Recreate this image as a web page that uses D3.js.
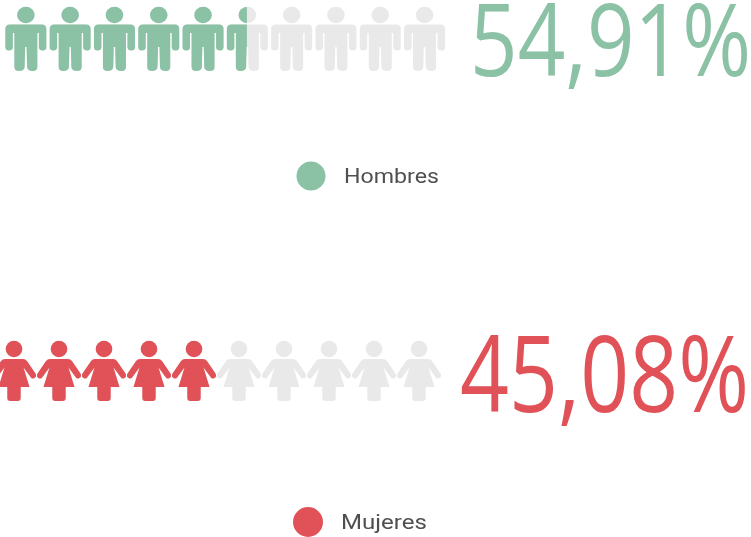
<!DOCTYPE html>
<html>
<head>
<meta charset="utf-8">
<script src="https://cdn.jsdelivr.net/npm/d3@7"></script>
<style>
html, body { margin: 0; padding: 0; background: #fff; overflow: hidden; }
svg { display: block; filter: blur(0.5px); }
</style>
</head>
<body>
<script>
const width = 751;
const height = 537;

const groups = ['Hombres', 'Mujeres'];
const percentLabels = ['54,91%', '45,08%'];
const iconTotals = [10, 10];
const iconsFilled = [5.49, 5];
const colors = ['#8bc2a6', '#e05258'];
const emptyColor = '#e9e9e9';

// iconos dibujados alrededor de (0,0), centro de la cabeza
const manBody = 'M-16,9.5 L16,9.5 Q20.5,9.5 20.5,14 L20.5,32 Q20.5,35.5 17,35.5 Q13,35.5 13,32 L13,18 L11.5,18 L11.5,52 Q11.5,56 7,56 Q1.5,56 1.2,52 L0.7,32 L-0.7,32 L-1.2,52 Q-1.5,56 -7,56 Q-11.5,56 -11.5,52 L-11.5,18 L-13,18 L-13,32 Q-13,35.5 -17,35.5 Q-20.5,35.5 -20.5,32 L-20.5,14 Q-20.5,9.5 -16,9.5 Z';
const womanBody = 'M-9,10 L9,10 Q11.5,10 13,12 L21.5,24.5 Q23,27.5 20.5,29 Q18,30.5 16.5,28 L9.5,18.5 L15.5,38 L6.7,38 L6.7,49 Q6.7,52 3.7,52 L-3.7,52 Q-6.7,52 -6.7,49 L-6.7,38 L-15.5,38 L-9.5,18.5 L-16.5,28 Q-18,30.5 -20.5,29 Q-23,27.5 -21.5,24.5 L-13,12 Q-11.5,10 -9,10 Z';

const layouts = [
    { range: [3.7, 446.7], headY: 15, rx: 8.8, ry: 8.3, body: manBody, labelX: 751, labelY: 75.5, labelW: 281, fontSize: 100, legendX: 311, legendY: 176, r: 14.5, textX: 344, textW: 95 },
    { range: [-8.5, 441.5], headY: 349, rx: 8.3, ry: 8.3, body: womanBody, labelX: 749, labelY: 412, labelW: 289, fontSize: 106, legendX: 308, legendY: 522, r: 15, textX: 341, textW: 86 }
];

const svg = d3.select('body').append('svg')
    .attr('width', width)
    .attr('height', height);

groups.forEach((name, g) => {
    const lay = layouts[g];
    const x = d3.scaleLinear().domain([0, iconTotals[g]]).range(lay.range);
    const icons = d3.range(iconTotals[g]);
    const group = svg.append('g');

    // la parte coloreada se recorta segun el valor
    group.append('clipPath')
        .attr('id', 'clip' + g)
        .append('rect')
        .attr('x', x(0))
        .attr('y', lay.headY - 20)
        .attr('width', x(iconsFilled[g]) - x(0))
        .attr('height', 100);

    const drawIcons = (parent, fill) => {
        const icon = parent.selectAll('g')
            .data(icons)
            .enter()
            .append('g')
            .attr('transform', d => `translate(${(x(d) + x(d + 1)) / 2},${lay.headY})`)
            .attr('fill', fill);
        icon.append('ellipse').attr('rx', lay.rx).attr('ry', lay.ry);
        icon.append('path').attr('d', lay.body);
    };

    drawIcons(group.append('g'), emptyColor);
    drawIcons(group.append('g').attr('clip-path', `url(#clip${g})`), colors[g]);

    // porcentaje grande, estrechado para imitar la fuente condensada
    const big = group.append('text')
        .attr('text-anchor', 'end')
        .attr('font-family', '"Open Sans", sans-serif')
        .attr('font-size', lay.fontSize)
        .attr('fill', colors[g])
        .text(percentLabels[g]);
    const sx = lay.labelW / big.node().getComputedTextLength();
    big.attr('transform', `translate(${lay.labelX},${lay.labelY}) scale(${sx},1)`);

    // leyenda
    group.append('circle')
        .attr('cx', lay.legendX)
        .attr('cy', lay.legendY)
        .attr('r', lay.r)
        .attr('fill', colors[g]);
    const legendText = group.append('text')
        .attr('font-family', 'Roboto, sans-serif')
        .attr('font-size', 20)
        .attr('fill', '#4f4f4f')
        .text(name);
    const tx = lay.textW / legendText.node().getComputedTextLength();
    legendText.attr('transform', `translate(${lay.textX},${lay.legendY + 7}) scale(${tx},1)`);
});
</script>
</body>
</html>
